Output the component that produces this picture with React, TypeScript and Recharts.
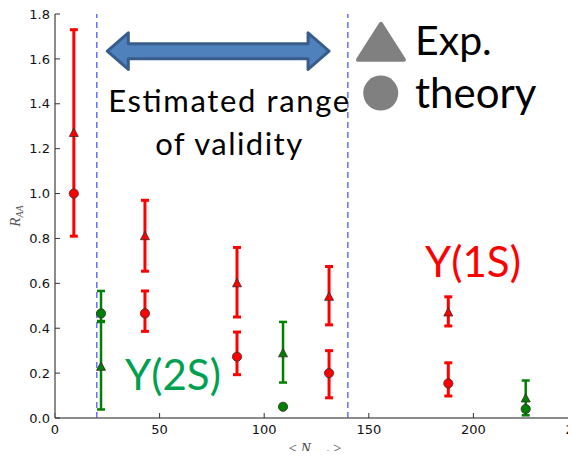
import React from 'react';
import {
  ComposedChart,
  Scatter,
  XAxis,
  YAxis,
  ErrorBar,
  ReferenceLine,
  ReferenceDot,
  ReferenceArea,
} from 'recharts';

// Y(1S) points
const nPart1S = [9, 43, 87, 131, 188];
const exp1S = [1.27, 0.81, 0.6, 0.54, 0.47];
const exp1SErrLow = [0.46, 0.156, 0.15, 0.125, 0.06];
const exp1SErrHigh = [0.46, 0.16, 0.16, 0.135, 0.07];
const theory1S = [1.0, 0.466, 0.273, 0.2, 0.154];
const theory1SErrLow = [0, 0.08, 0.08, 0.11, 0.056];
const theory1SErrHigh = [0, 0.1, 0.11, 0.1, 0.092];

// Y(2S) points
const nPart2S = [22, 109, 225];
const exp2S = [0.228, 0.288, 0.087];
const exp2SErrLow = [0.19, 0.13, 0.075];
const exp2SErrHigh = [0.2, 0.14, 0.08];
const theory2S = [0.466, 0.05, 0.04];
const theory2SErrLow = [0.034, 0, 0];
const theory2SErrHigh = [0.1, 0, 0];

const xTicks = [0, 50, 100, 150, 200, 250];
const yTicks = [0, 0.2, 0.4, 0.6, 0.8, 1.0, 1.2, 1.4, 1.6, 1.8];
const validityRange = [20, 140];

// points without an error get no bar at all
const toPoints = (xs: number[], ys: number[], lo: number[], hi: number[]) =>
  xs.map((x, i) => ({ x, y: ys[i], err: lo[i] || hi[i] ? [lo[i], hi[i]] : undefined }));

const exp1SData = toPoints(nPart1S, exp1S, exp1SErrLow, exp1SErrHigh);
const theory1SData = toPoints(nPart1S, theory1S, theory1SErrLow, theory1SErrHigh);
const exp2SData = toPoints(nPart2S, exp2S, exp2SErrLow, exp2SErrHigh);
const theory2SData = toPoints(nPart2S, theory2S, theory2SErrLow, theory2SErrHigh);

const RED = '#ff0000';
const GREEN = '#008000';
const TEXT_GREEN = '#00a050';
const LEGEND_GRAY = '#808080';

const triangle = (fill: string) => (props: any) => {
  const { cx, cy } = props;
  return (
    <polygon
      points={`${cx},${cy - 5} ${cx - 4.5},${cy + 3.5} ${cx + 4.5},${cy + 3.5}`}
      fill={fill}
      stroke="#3a2a2a"
      strokeWidth={0.8}
    />
  );
};

const circle = (fill: string) => (props: any) => {
  const { cx, cy } = props;
  return <circle cx={cx} cy={cy} r={4.6} fill={fill} stroke="#3a2a2a" strokeWidth={0.8} />;
};

const textAt = (txt: string, size: number, color: string, anchor: string = 'start', len?: number) => (props: any) => (
  <text
    x={props.cx}
    y={props.cy}
    fontSize={size}
    fill={color}
    textAnchor={anchor}
    textLength={len}
    fontFamily="Lato, 'Noto Sans', sans-serif"
  >
    {txt}
  </text>
);

const doubleArrow = (props: any) => {
  const { x, y, width, height } = props;
  const cy = y + height / 2;
  const hl = 21;
  const sh = 15;
  const pts = [
    [x, cy],
    [x + hl, y],
    [x + hl, cy - sh / 2],
    [x + width - hl, cy - sh / 2],
    [x + width - hl, y],
    [x + width, cy],
    [x + width - hl, y + height],
    [x + width - hl, cy + sh / 2],
    [x + hl, cy + sh / 2],
    [x + hl, y + height],
  ]
    .map((p) => p.join(','))
    .join(' ');
  return <polygon points={pts} fill="#4f81bd" stroke="#385d8a" strokeWidth={3} strokeLinejoin="round" />;
};

const tickStyle = { fontSize: 13, fill: '#111', fontFamily: "'DejaVu Sans', sans-serif" };
const serif = "'Liberation Serif', 'DejaVu Serif', serif";

const App = () => {
  return (
    <div style={{ position: 'relative', width: 576, height: 459, overflow: 'hidden', margin: -8, background: '#fff' }}>
      <ComposedChart width={600} height={459} margin={{ top: 14, right: 22, left: 0, bottom: 0 }}>
        <XAxis
          dataKey="x"
          type="number"
          domain={[0, 250]}
          ticks={xTicks}
          height={41}
          tickSize={-5}
          tickMargin={12}
          tick={tickStyle}
          tickLine={{ stroke: '#333' }}
          axisLine={{ stroke: '#666', strokeWidth: 1.5 }}
          allowDataOverflow
        />
        <XAxis
          xAxisId="top"
          orientation="top"
          type="number"
          domain={[0, 250]}
          ticks={xTicks}
          height={0}
          tickSize={-5}
          tickFormatter={() => ''}
          tickLine={{ stroke: '#333' }}
          axisLine={{ stroke: '#666', strokeWidth: 1.5 }}
          allowDataOverflow
        />
        <YAxis
          dataKey="y"
          type="number"
          domain={[0, 1.8]}
          ticks={yTicks}
          width={55}
          tickSize={-5}
          tickMargin={10}
          tick={tickStyle}
          tickFormatter={(v: number) => v.toFixed(1)}
          tickLine={{ stroke: '#333' }}
          axisLine={{ stroke: '#666', strokeWidth: 1.5 }}
          allowDataOverflow
        />
        <YAxis
          yAxisId="right"
          orientation="right"
          type="number"
          domain={[0, 1.8]}
          ticks={yTicks}
          width={0}
          tickSize={-5}
          tickFormatter={() => ''}
          tickLine={{ stroke: '#333' }}
          axisLine={{ stroke: '#666', strokeWidth: 1.5 }}
          allowDataOverflow
        />

        {validityRange.map((v) => (
          <ReferenceLine key={v} x={v} stroke="#2f3cff" strokeDasharray="6 4" strokeWidth={1.1} />
        ))}

        <ReferenceArea x1={25} x2={131} y1={1.553} y2={1.716} shape={doubleArrow} ifOverflow="visible" />
        <ReferenceDot x={83} y={1.365} r={0} ifOverflow="visible" shape={textAt('Estimated range', 31, '#000', 'middle', 241)} />
        <ReferenceDot x={83} y={1.172} r={0} ifOverflow="visible" shape={textAt('of validity', 31, '#000', 'middle', 147)} />

        <ReferenceDot
          x={155.8}
          y={1.676}
          r={0}
          ifOverflow="visible"
          shape={(p: any) => (
            <polygon
              points={`${p.cx},${p.cy - 18} ${p.cx - 23},${p.cy + 18} ${p.cx + 23},${p.cy + 18}`}
              fill={LEGEND_GRAY}
              stroke={LEGEND_GRAY}
              strokeWidth={4}
              strokeLinejoin="round"
            />
          )}
        />
        <ReferenceDot x={155.7} y={1.448} r={17.5} fill={LEGEND_GRAY} stroke="none" ifOverflow="visible" />
        <ReferenceDot x={172.1} y={1.618} r={0} ifOverflow="visible" shape={textAt('Exp.', 41, '#000')} />
        <ReferenceDot x={172.1} y={1.381} r={0} ifOverflow="visible" shape={textAt('theory', 42, '#000')} />

        <ReferenceDot x={176.9} y={0.628} r={0} ifOverflow="visible" shape={textAt('Y(1S)', 42, RED)} />
        <ReferenceDot x={33.5} y={0.125} r={0} ifOverflow="visible" shape={textAt('Y(2S)', 42, TEXT_GREEN)} />

        <Scatter data={exp2SData} shape={triangle(GREEN)} isAnimationActive={false}>
          <ErrorBar dataKey="err" direction="y" width={4} stroke={GREEN} strokeWidth={2.5} />
        </Scatter>
        <Scatter data={theory2SData} shape={circle(GREEN)} isAnimationActive={false}>
          <ErrorBar dataKey="err" direction="y" width={4} stroke={GREEN} strokeWidth={2.5} />
        </Scatter>
        <Scatter data={exp1SData} shape={triangle(RED)} isAnimationActive={false}>
          <ErrorBar dataKey="err" direction="y" width={4} stroke={RED} strokeWidth={3} />
        </Scatter>
        <Scatter data={theory1SData} shape={circle(RED)} isAnimationActive={false}>
          <ErrorBar dataKey="err" direction="y" width={4} stroke={RED} strokeWidth={3} />
        </Scatter>
      </ComposedChart>

      {/* axis titles */}
      <div
        style={{
          position: 'absolute',
          left: 15,
          top: 216,
          transform: 'translate(-50%, -50%) rotate(-90deg)',
          fontFamily: serif,
          fontStyle: 'italic',
          fontSize: 15,
          color: '#555',
          whiteSpace: 'nowrap',
          lineHeight: 1,
        }}
      >
        R<span style={{ fontSize: 10, position: 'relative', top: 3 }}>AA</span>
      </div>
      <div
        style={{
          position: 'absolute',
          left: 315,
          top: 448,
          transform: 'translate(-50%, -50%)',
          fontFamily: serif,
          fontSize: 15,
          color: '#444',
          whiteSpace: 'nowrap',
          lineHeight: 1,
        }}
      >
        {'< '}
        <i>N</i>
        <i style={{ fontSize: 11, position: 'relative', top: 3 }}>part</i>
        {' >'}
      </div>
    </div>
  );
};

export default App;
